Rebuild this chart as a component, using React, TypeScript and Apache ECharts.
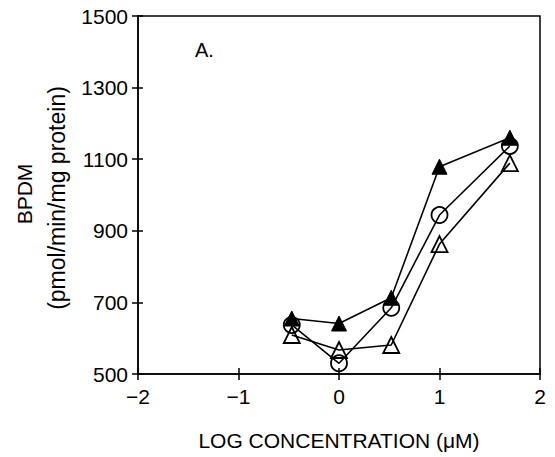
import React, { useEffect, useRef } from "react";
import * as echarts from "echarts";

const xValues = [-0.47, 0, 0.52, 1, 1.7];
const filledTriangle = [655, 641, 713, 1079, 1160];
const openCircle = [637, 530, 685, 944, 1137];
const openTriangle = [609, 567, 581, 863, 1089];
const xTicks = [-2, -1, 0, 1, 2];
const yTicks = [500, 700, 900, 1100, 1300, 1500];

const FONT = "'Liberation Sans', Arial, Helvetica, sans-serif";

const pairs = (ys: number[]) => xValues.map((x, i) => [x, ys[i]]);

export default function App() {
  const ref = useRef<HTMLDivElement>(null);
  useEffect(() => {
    if (!ref.current) return;
    const chart = echarts.init(ref.current, null, { renderer: "svg" });
    const fmtX = (v: number) => (v < 0 ? "\u2212" + Math.abs(v) : String(v));
    const common = {
      type: "line",
      lineStyle: { color: "#000", width: 1.6 },
      z: 3,
    };
    chart.setOption({
      animation: false,
      backgroundColor: "#fff",
      grid: {
        left: 138,
        right: 15,
        top: 16,
        bottom: 83,
        show: true,
        borderColor: "#000",
        borderWidth: 1.5,
        backgroundColor: "transparent",
      },
      xAxis: [
        {
          type: "value",
          min: xTicks[0],
          max: xTicks[xTicks.length - 1],
          interval: 1,
          axisLine: { show: true, onZero: false, lineStyle: { color: "#000", width: 1.5 } },
          axisTick: { show: true, inside: false, length: 6, lineStyle: { color: "#000", width: 1.5 } },
          axisLabel: {
            show: true,
            margin: 12,
            color: "#000",
            fontSize: 21,
            fontFamily: FONT,
            formatter: fmtX,
          },
          splitLine: { show: false },
        },
        {
          type: "value",
          position: "bottom",
          min: xTicks[0],
          max: xTicks[xTicks.length - 1],
          interval: 1,
          axisLine: { show: false, onZero: false },
          axisTick: { show: true, inside: true, length: 6, lineStyle: { color: "#000", width: 1.5 } },
          axisLabel: { show: false },
          splitLine: { show: false },
        },
      ],
      yAxis: [
        {
          type: "value",
          min: yTicks[0],
          max: yTicks[yTicks.length - 1],
          interval: 200,
          axisLine: { show: true, onZero: false, lineStyle: { color: "#000", width: 1.5 } },
          axisTick: { show: true, inside: false, length: 6, lineStyle: { color: "#000", width: 1.5 } },
          axisLabel: {
            show: true,
            margin: 10,
            color: "#000",
            fontSize: 21,
            fontFamily: FONT,
            formatter: (v: number) => String(v),
          },
          splitLine: { show: false },
        },
        {
          type: "value",
          position: "left",
          min: yTicks[0],
          max: yTicks[yTicks.length - 1],
          interval: 200,
          axisLine: { show: false, onZero: false },
          axisTick: { show: true, inside: true, length: 5, lineStyle: { color: "#000", width: 1.5 } },
          axisLabel: { show: false },
          splitLine: { show: false },
        },
      ],
      series: [
        {
          ...common,
          name: "filled triangle",
          data: pairs(filledTriangle),
          symbol: "triangle",
          symbolSize: 15,
          itemStyle: { color: "#000", borderColor: "#000", borderWidth: 1 },
        },
        {
          ...common,
          name: "open circle",
          data: pairs(openCircle),
          symbol: "circle",
          symbolSize: 16,
          itemStyle: { color: "rgba(0,0,0,0)", borderColor: "#000", borderWidth: 1.8 },
        },
        {
          ...common,
          name: "open triangle",
          data: pairs(openTriangle),
          symbol: "triangle",
          symbolSize: 16,
          itemStyle: { color: "rgba(0,0,0,0)", borderColor: "#000", borderWidth: 1.8 },
        },
      ],
      graphic: [
        {
          type: "text",
          x: 195,
          y: 50,
          style: {
            text: "A.",
            fill: "#000",
            font: `20px ${FONT}`,
            align: "left",
            verticalAlign: "middle",
          },
        },
        {
          type: "text",
          x: 24,
          y: 194,
          rotation: Math.PI / 2,
          style: {
            text: "BPDM",
            fill: "#000",
            font: `21px ${FONT}`,
            align: "center",
            verticalAlign: "middle",
          },
        },
        {
          type: "text",
          x: 57,
          y: 198,
          rotation: Math.PI / 2,
          style: {
            text: "(pmol/min/mg protein)",
            fill: "#000",
            font: `23px ${FONT}`,
            align: "center",
            verticalAlign: "middle",
          },
        },
        {
          type: "text",
          x: 339,
          y: 440,
          style: {
            text: "LOG CONCENTRATION (\u03bcM)",
            fill: "#000",
            font: `21px ${FONT}`,
            align: "center",
            verticalAlign: "middle",
          },
        },
      ],
    });
    return () => chart.dispose();
  }, []);
  return (
    <div
      ref={ref}
      style={{ position: "fixed", left: 0, top: 0, width: 555, height: 457 }}
    />
  );
}
